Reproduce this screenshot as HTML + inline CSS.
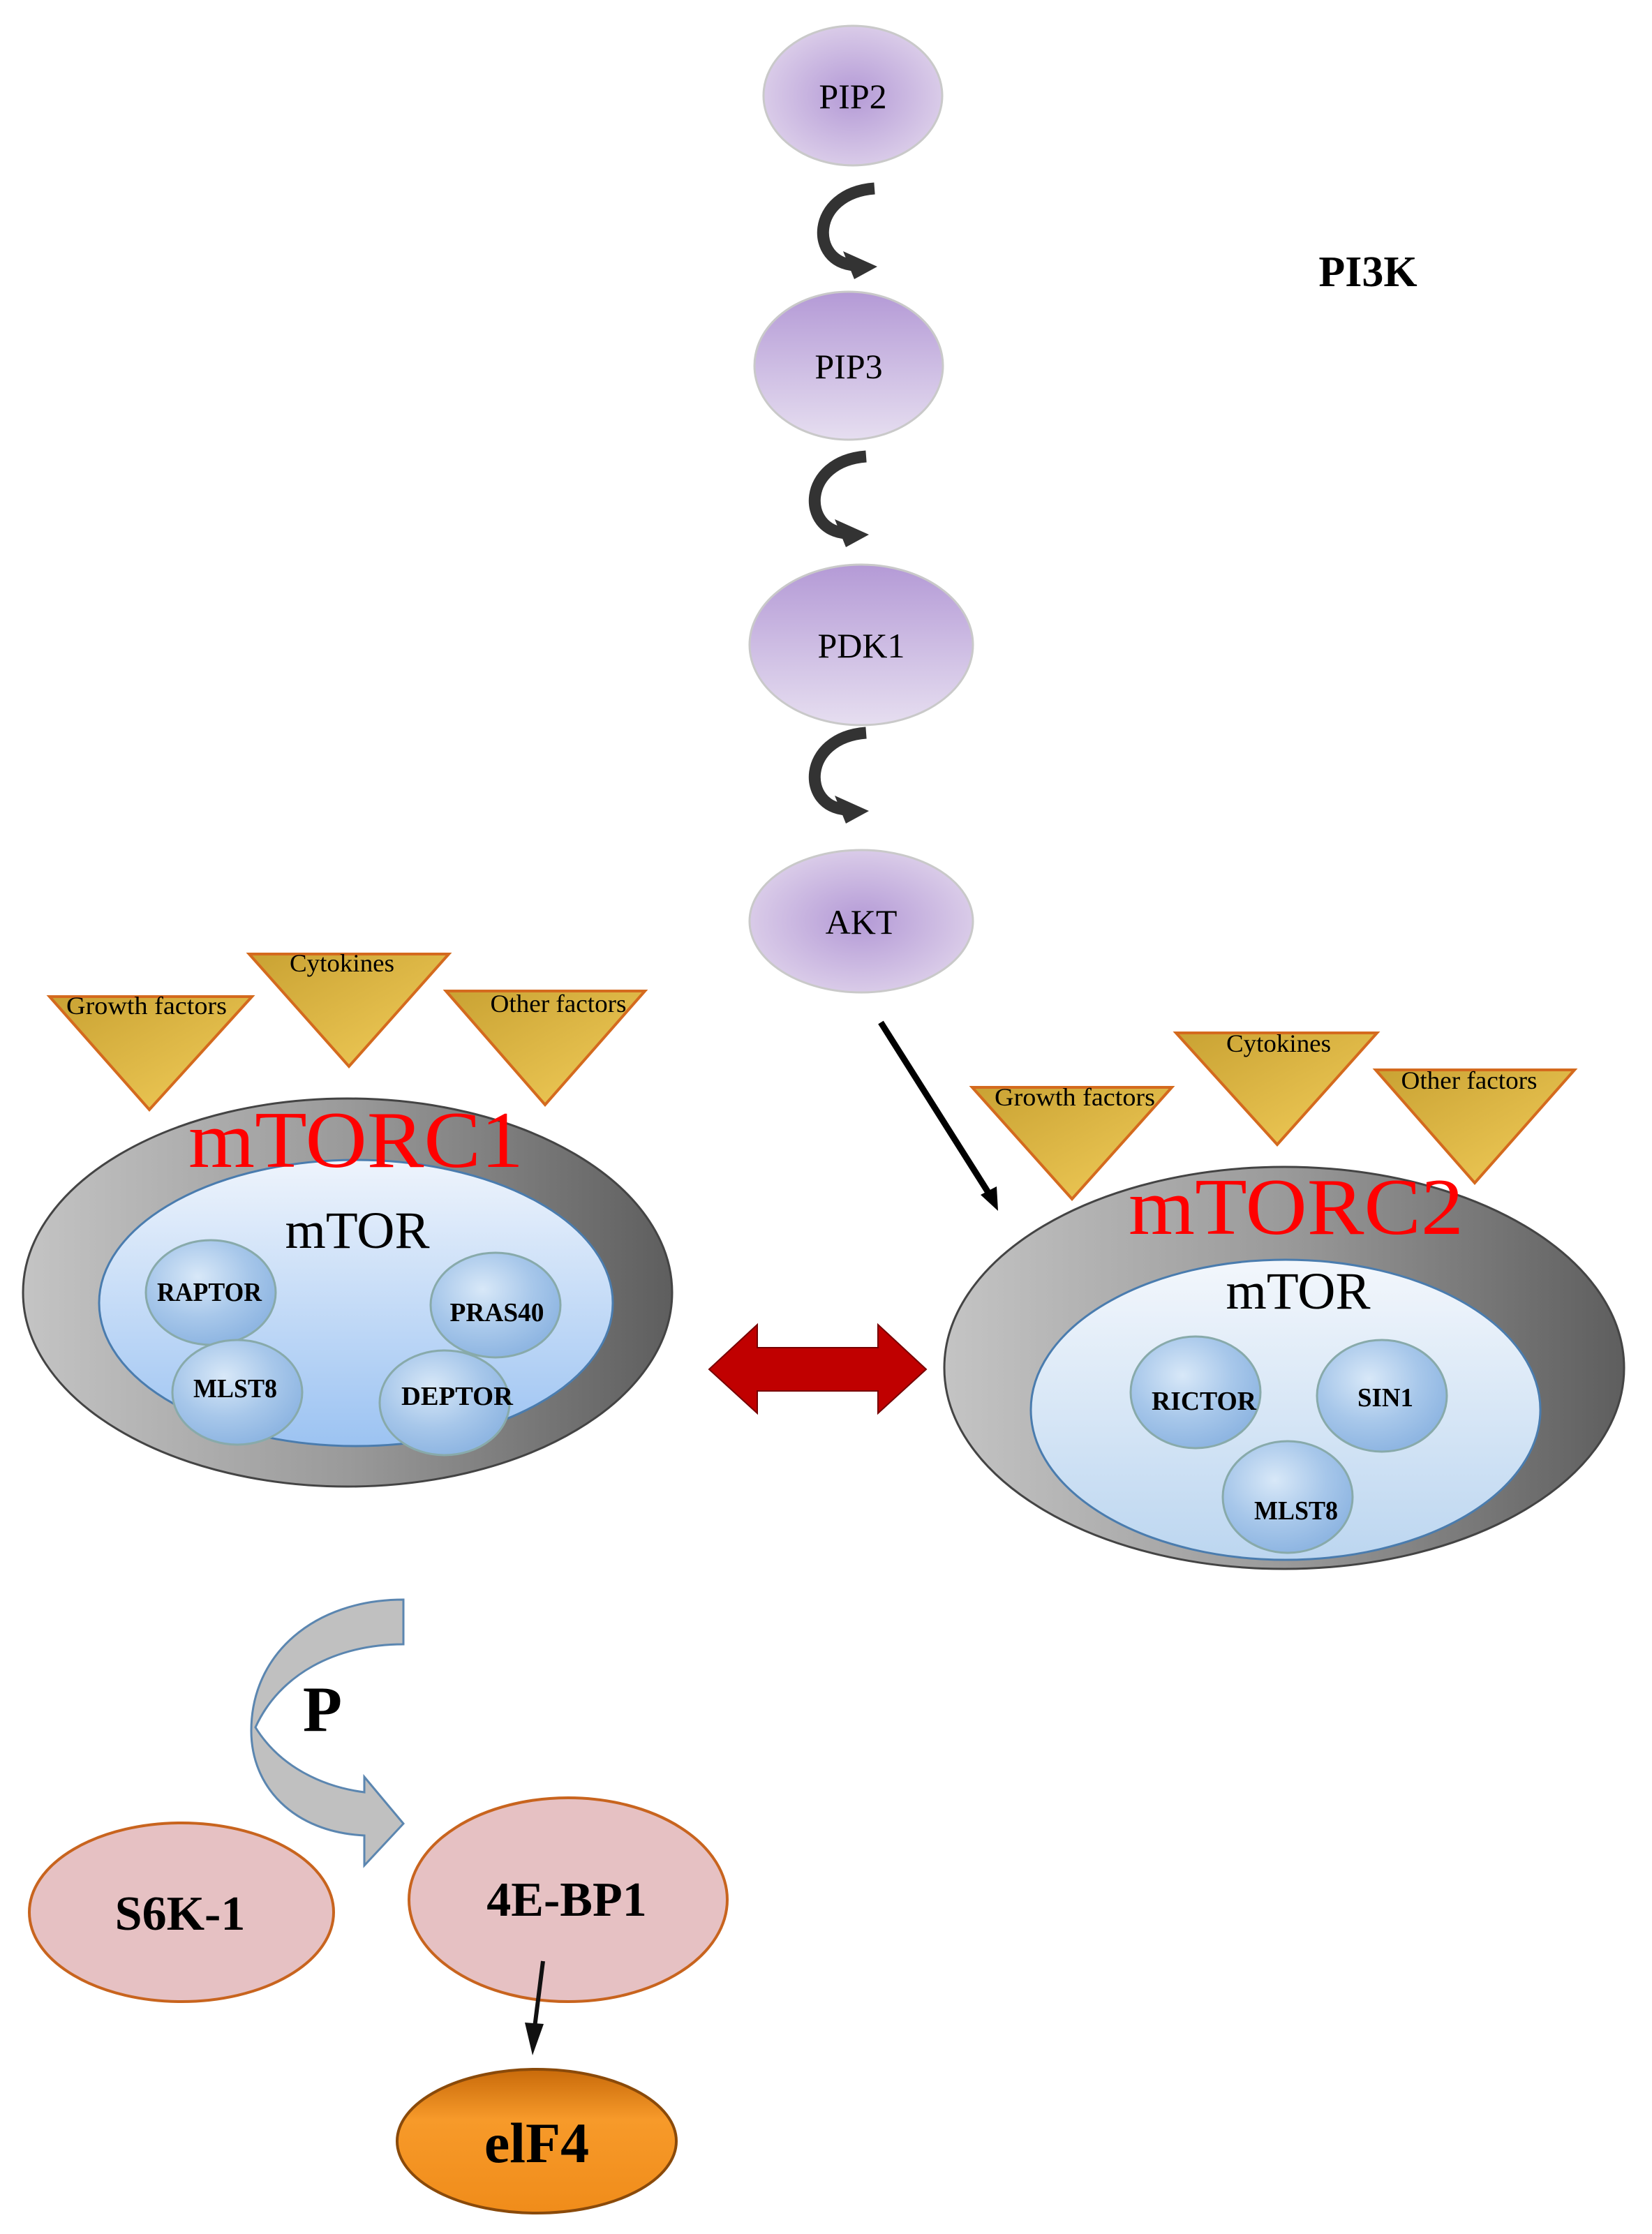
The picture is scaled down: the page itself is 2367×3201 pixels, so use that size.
<!DOCTYPE html>
<html><head><meta charset="utf-8"><style>
html,body{margin:0;padding:0;background:#fff}
svg{display:block}
text{font-family:"Liberation Serif",serif}
</style></head><body>
<svg width="2367" height="3201" viewBox="0 0 2367 3201" xmlns="http://www.w3.org/2000/svg">
<defs>
<radialGradient id="pur" cx="50%" cy="50%" r="55%"><stop offset="0" stop-color="#b49ad6"/><stop offset="1" stop-color="#ddd0ea"/></radialGradient>
<linearGradient id="purL" x1="0" y1="0" x2="0" y2="1"><stop offset="0" stop-color="#b49ad6"/><stop offset="1" stop-color="#e6def0"/></linearGradient>
<linearGradient id="gray" x1="0" y1="0" x2="1" y2="0"><stop offset="0" stop-color="#c4c4c4"/><stop offset="0.5" stop-color="#9a9a9a"/><stop offset="1" stop-color="#5e5e5e"/></linearGradient>
<linearGradient id="inner1" x1="0" y1="0" x2="0" y2="1"><stop offset="0" stop-color="#eef4fc"/><stop offset="1" stop-color="#9cc3f2"/></linearGradient>
<linearGradient id="inner2" x1="0" y1="0" x2="0" y2="1"><stop offset="0" stop-color="#f3f7fc"/><stop offset="1" stop-color="#bcd6f0"/></linearGradient>
<radialGradient id="ball" cx="40%" cy="35%" r="65%"><stop offset="0" stop-color="#d8e8f8"/><stop offset="0.6" stop-color="#a7c7ea"/><stop offset="1" stop-color="#8fb6e2"/></radialGradient>
<linearGradient id="tri" x1="0" y1="0" x2="1" y2="1"><stop offset="0" stop-color="#c9a233"/><stop offset="1" stop-color="#f2cd5a"/></linearGradient>
<linearGradient id="org" x1="0" y1="0" x2="0" y2="1"><stop offset="0" stop-color="#c86a0a"/><stop offset="0.35" stop-color="#f79a2a"/><stop offset="1" stop-color="#f08c1a"/></linearGradient>
</defs>

<!-- PI3K pathway -->
<ellipse cx="1222" cy="137" rx="128" ry="100" fill="url(#pur)" stroke="#c9c9c9" stroke-width="3"/>
<text x="1222" y="155" font-size="50" text-anchor="middle">PIP2</text>
<ellipse cx="1216" cy="524" rx="135" ry="106" fill="url(#purL)" stroke="#c9c9c9" stroke-width="3"/>
<text x="1216" y="542" font-size="50" text-anchor="middle">PIP3</text>
<ellipse cx="1234" cy="924" rx="160" ry="115" fill="url(#purL)" stroke="#c9c9c9" stroke-width="3"/>
<text x="1234" y="942" font-size="50" text-anchor="middle">PDK1</text>
<ellipse cx="1234" cy="1320" rx="160" ry="102" fill="url(#pur)" stroke="#c9c9c9" stroke-width="3"/>
<text x="1234" y="1338" font-size="50" text-anchor="middle">AKT</text>
<text x="1960" y="410" font-size="62" font-weight="bold" text-anchor="middle">PI3K</text>

<!-- curved small arrows -->
<g transform="translate(0,52)">
<path d="M1253,218 C1160,225 1160,325 1225,328" fill="none" stroke="#333" stroke-width="17"/>
<path d="M1208,308 L1257,330 L1224,348 z" fill="#333"/>
</g>
<g transform="translate(-12,436)">
<path d="M1253,218 C1160,225 1160,325 1225,328" fill="none" stroke="#333" stroke-width="17"/>
<path d="M1208,308 L1257,330 L1224,348 z" fill="#333"/>
</g>
<g transform="translate(-12,832)">
<path d="M1253,218 C1160,225 1160,325 1225,328" fill="none" stroke="#333" stroke-width="17"/>
<path d="M1208,308 L1257,330 L1224,348 z" fill="#333"/>
</g>

<!-- black arrow AKT to mTORC2 -->
<line x1="1262" y1="1465" x2="1420" y2="1715" stroke="#000" stroke-width="9"/>
<path d="M1430,1735 L1405,1712 L1428,1700 z" fill="#000"/>

<!-- mTORC1 -->
<ellipse cx="498" cy="1852" rx="465" ry="278" fill="url(#gray)" stroke="#444" stroke-width="3"/>
<ellipse cx="510" cy="1867" rx="368" ry="205" fill="url(#inner1)" stroke="#4a7cae" stroke-width="3"/>
<polygon points="71,1428 361,1428 214,1590" fill="url(#tri)" stroke="#d46a1e" stroke-width="4"/>
<polygon points="357,1367 643,1367 500,1528" fill="url(#tri)" stroke="#d46a1e" stroke-width="4"/>
<polygon points="639,1420 924,1420 781,1583" fill="url(#tri)" stroke="#d46a1e" stroke-width="4"/>
<text x="210" y="1453" font-size="36" text-anchor="middle" textLength="230" lengthAdjust="spacingAndGlyphs">Growth factors</text>
<text x="490" y="1392" font-size="36" text-anchor="middle" textLength="150" lengthAdjust="spacingAndGlyphs">Cytokines</text>
<text x="800" y="1450" font-size="36" text-anchor="middle" textLength="195" lengthAdjust="spacingAndGlyphs">Other factors</text>
<text x="510" y="1672" font-size="115" fill="#f00" text-anchor="middle" textLength="480" lengthAdjust="spacingAndGlyphs">mTORC1</text>
<text x="512" y="1788" font-size="75" text-anchor="middle">mTOR</text>
<ellipse cx="302" cy="1852" rx="93" ry="75" fill="url(#ball)" stroke="#8aa" stroke-width="3"/>
<ellipse cx="710" cy="1870" rx="93" ry="75" fill="url(#ball)" stroke="#8aa" stroke-width="3"/>
<ellipse cx="340" cy="1995" rx="93" ry="75" fill="url(#ball)" stroke="#8aa" stroke-width="3"/>
<ellipse cx="637" cy="2010" rx="93" ry="75" fill="url(#ball)" stroke="#8aa" stroke-width="3"/>
<g font-size="38" font-weight="bold" text-anchor="middle">
<text x="300" y="1864" textLength="150" lengthAdjust="spacingAndGlyphs">RAPTOR</text>
<text x="712" y="1893" textLength="135" lengthAdjust="spacingAndGlyphs">PRAS40</text>
<text x="337" y="2002" textLength="120" lengthAdjust="spacingAndGlyphs">MLST8</text>
<text x="655" y="2013" textLength="160" lengthAdjust="spacingAndGlyphs">DEPTOR</text>
</g>

<!-- red double arrow -->
<polygon points="1016,1962 1085,1898 1085,1931 1258,1931 1258,1898 1327,1962 1258,2025 1258,1993 1085,1993 1085,2025" fill="#c00000" stroke="#700" stroke-width="2"/>

<!-- mTORC2 -->
<ellipse cx="1840" cy="1960" rx="487" ry="288" fill="url(#gray)" stroke="#444" stroke-width="3"/>
<ellipse cx="1842" cy="2020" rx="365" ry="215" fill="url(#inner2)" stroke="#4a7cae" stroke-width="3"/>
<polygon points="1393,1558 1679,1558 1536,1718" fill="url(#tri)" stroke="#d46a1e" stroke-width="4"/>
<polygon points="1685,1480 1973,1480 1830,1640" fill="url(#tri)" stroke="#d46a1e" stroke-width="4"/>
<polygon points="1971,1533 2256,1533 2113,1695" fill="url(#tri)" stroke="#d46a1e" stroke-width="4"/>
<text x="1540" y="1584" font-size="36" text-anchor="middle" textLength="230" lengthAdjust="spacingAndGlyphs">Growth factors</text>
<text x="1832" y="1507" font-size="36" text-anchor="middle" textLength="150" lengthAdjust="spacingAndGlyphs">Cytokines</text>
<text x="2105" y="1560" font-size="36" text-anchor="middle" textLength="195" lengthAdjust="spacingAndGlyphs">Other factors</text>
<text x="1857" y="1768" font-size="115" fill="#f00" text-anchor="middle" textLength="480" lengthAdjust="spacingAndGlyphs">mTORC2</text>
<text x="1860" y="1875" font-size="75" text-anchor="middle">mTOR</text>
<ellipse cx="1713" cy="1995" rx="93" ry="80" fill="url(#ball)" stroke="#8aa" stroke-width="3"/>
<ellipse cx="1980" cy="2000" rx="93" ry="80" fill="url(#ball)" stroke="#8aa" stroke-width="3"/>
<ellipse cx="1845" cy="2145" rx="93" ry="80" fill="url(#ball)" stroke="#8aa" stroke-width="3"/>
<g font-size="38" font-weight="bold" text-anchor="middle">
<text x="1725" y="2020" textLength="150" lengthAdjust="spacingAndGlyphs">RICTOR</text>
<text x="1985" y="2015" textLength="80" lengthAdjust="spacingAndGlyphs">SIN1</text>
<text x="1857" y="2177" textLength="120" lengthAdjust="spacingAndGlyphs">MLST8</text>
</g>

<!-- curved P arrow -->
<path d="M578,2292 L578,2356 C480,2356 400,2400 366,2475 C400,2530 460,2560 522,2568 L522,2546 L578,2613 L522,2673 L522,2630 C420,2625 360,2560 360,2480 C360,2370 450,2292 578,2292 Z" fill="#c0c0c0" stroke="#5b86b0" stroke-width="3"/>
<text x="462" y="2480" font-size="92" font-weight="bold" text-anchor="middle">P</text>

<!-- bottom -->
<ellipse cx="260" cy="2740" rx="218" ry="128" fill="#e6c1c3" stroke="#c8641e" stroke-width="4"/>
<text x="258" y="2765" font-size="70" font-weight="bold" text-anchor="middle">S6K-1</text>
<ellipse cx="814" cy="2722" rx="228" ry="146" fill="#e6c1c3" stroke="#c8641e" stroke-width="4"/>
<text x="812" y="2745" font-size="70" font-weight="bold" text-anchor="middle">4E-BP1</text>
<ellipse cx="769" cy="3068" rx="200" ry="103" fill="url(#org)" stroke="#8a4a0a" stroke-width="4"/>
<text x="769" y="3098" font-size="82" font-weight="bold" text-anchor="middle">elF4</text>
<line x1="778" y1="2810" x2="766" y2="2905" stroke="#111" stroke-width="6"/>
<path d="M752,2898 L763,2945 L779,2900 z" fill="#111"/>
</svg>
</body></html>
